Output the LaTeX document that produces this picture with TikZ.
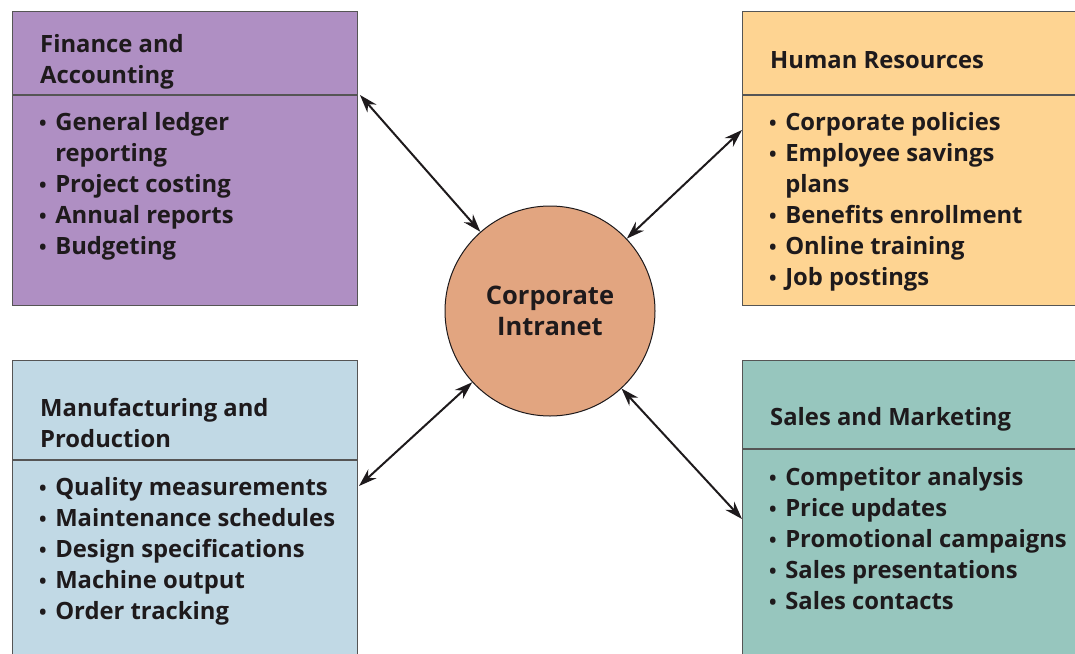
\documentclass[tikz,border=0pt]{standalone}
\usepackage{fontspec}
\setmainfont{Open Sans}
\usepackage{tikz}
\usetikzlibrary{arrows.meta}
\usetikzlibrary{positioning}
\definecolor{finfill}{RGB}{175,143,195}
\definecolor{hrfill}{RGB}{254,212,146}
\definecolor{mfgfill}{RGB}{193,217,229}
\definecolor{salesfill}{RGB}{151,198,190}
\definecolor{netfill}{RGB}{226,165,128}
\definecolor{inkcol}{RGB}{30,26,28}
\definecolor{edgecol}{RGB}{85,85,85}
\newcommand{\bul}{{\fontsize{20}{0}\selectfont•}\hspace{0.36em}}

\begin{document}
\begin{tikzpicture}[x=1pt, y=-1pt,
                font=\bfseries\fontsize{23.8}{31}\selectfont, text=inkcol,
                box/.style={rectangle, draw=edgecol, line width=1.2pt, anchor=north west, inner sep=0pt},
                title/.style={anchor=base west, align=left, inner sep=0pt},
                items/.style={anchor=base west, align=left, inner sep=0pt},
                divider/.style={draw=edgecol, line width=1.2pt},
                arrow/.style={draw=inkcol, line width=2pt, {Stealth[length=18pt,width=12pt]}-{Stealth[length=18pt,width=12pt]}}
            ]
            \useasboundingbox (0,0) rectangle (1075,653);
            % the four areas
            \node[box, fill=finfill, minimum width=345pt, minimum height=294pt] (fin) at (12,11) {};
            \node[box, fill=hrfill, minimum width=345pt, minimum height=294pt] (hr) at (742,11) {};
            \node[box, fill=mfgfill, minimum width=345pt, minimum height=310pt] (mfg) at (12,360) {};
            \node[box, fill=salesfill, minimum width=345pt, minimum height=310pt] (sales) at (742,360) {};
            \path[divider] (fin.west |- 0,95) -- (fin.east |- 0,95);
            \path[divider] (hr.west |- 0,95) -- (hr.east |- 0,95);
            \path[divider] (mfg.west |- 0,460) -- (mfg.east |- 0,460);
            \path[divider] (sales.west |- 0,449) -- (sales.east |- 0,449);
            % titles (base = last line)
            \node[title] (fintitle) at (40,83) {Finance and\\Accounting};
            \node[title] (hrtitle) at (770,68) {Human Resources};
            \node[title] (mfgtitle) at (40,447) {Manufacturing and\\Production};
            \node[title] (salestitle) at (770,425) {Sales and Marketing};
            % lists (base = last line)
            \node[items] (finlist) at (39,254) {\bul General ledger\\\phantom{\bul}reporting\\\bul Project costing\\\bul Annual reports\\\bul Budgeting};
            \node[items] (hrlist) at (769,285) {\bul Corporate policies\\\bul Employee savings\\\phantom{\bul}plans\\\bul Benefits enrollment\\\bul Online training\\\bul Job postings};
            \node[items] (mfglist) at (39,619) {\bul Quality measurements\\\bul Maintenance schedules\\\bul Design specifications\\\bul Machine output\\\bul Order tracking};
            \node[items] (saleslist) at (769,609) {\bul Competitor analysis\\\bul Price updates\\\bul Promotional campaigns\\\bul Sales presentations\\\bul Sales contacts};
            % hub
            \node[circle, draw=inkcol, line width=1pt, fill=netfill, minimum size=210pt, align=center,
                  font=\bfseries\fontsize{25.5}{31}\selectfont] (net) at (550,311) {Corporate\\Intranet};
            \coordinate (finend) at (360,95);
            \coordinate (hrend) at (742,130);
            \coordinate (mfgend) at (359,486);
            \coordinate (salesend) at (742,519);
            \path[arrow] (finend) -- (net);
            \path[arrow] (hrend) -- (net);
            \path[arrow] (mfgend) -- (net);
            \path[arrow] (salesend) -- (net);
        \end{tikzpicture}
\end{document}
